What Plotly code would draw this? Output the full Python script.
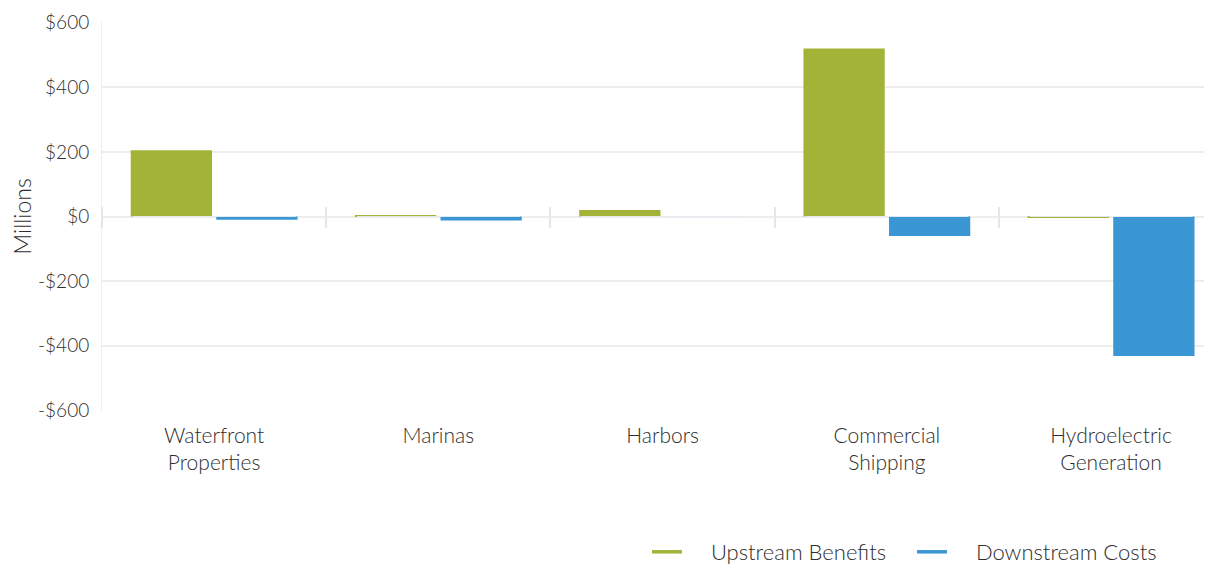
import plotly.graph_objects as go

categories = ["Waterfront<br>Properties", "Marinas", "Harbors", "Commercial<br>Shipping", "Hydroelectric<br>Generation"]
upstream_benefits = [205, 4, 20, 520, -2]
downstream_costs = [-10, -12, 0, -60, -432]
y_ticks = [600, 400, 200, 0, -200, -400, -600]
y_tick_labels = ["$600", "$400", "$200", "$0", "-$200", "-$400", "-$600"]
series_names = ["Upstream Benefits", "Downstream Costs"]

GREEN = "#a2b337"
BLUE = "#3a97d3"
FONT = "Lato"
TXT = "#2e2e2e"
GRID = "#f0ecec"
NB = "\u00a0"

fig = go.Figure()
fig.add_trace(go.Bar(x=categories, y=upstream_benefits, marker=dict(color=GREEN, line=dict(width=0)),
                     showlegend=False, name=series_names[0]))
fig.add_trace(go.Bar(x=categories, y=downstream_costs, marker=dict(color=BLUE, line=dict(width=0)),
                     showlegend=False, name=series_names[1]))
# legend entries as lines
fig.add_trace(go.Scatter(x=[None], y=[None], mode="lines", line=dict(color=GREEN, width=3.5),
                         name=NB * 4 + series_names[0]))
fig.add_trace(go.Scatter(x=[None], y=[None], mode="lines", line=dict(color=BLUE, width=3.5),
                         name=NB * 4 + series_names[1]))
# separator tick marks at zero line (category boundaries)
fig.add_trace(go.Bar(x=categories, y=[0]*5, xaxis="x2", showlegend=False, hoverinfo="skip"))
fig.add_trace(go.Bar(x=categories, y=[0]*5, xaxis="x3", showlegend=False, hoverinfo="skip"))

fig.update_layout(
    width=1204, height=557,
    margin=dict(l=94, r=0, t=14, b=154, autoexpand=False),
    paper_bgcolor="white", plot_bgcolor="white",
    font=dict(family=FONT, color=TXT, size=18, weight=300),
    barmode="group", bargap=0.237, bargroupgap=0.05,
    xaxis=dict(range=[-0.5, 4.45], showgrid=False, zeroline=False, showline=False, automargin=False,
               tickfont=dict(size=21, color=TXT, weight=300), ticks="", ticklabelstandoff=10),
    xaxis2=dict(overlaying="x", matches="x", anchor="free", position=0.5, side="bottom",
                type="category", tickson="boundaries", ticks="outside", ticklen=10,
                tickcolor="#e6e6e6", tickwidth=2, showticklabels=False, showgrid=False,
                showline=False, zeroline=False),
    xaxis3=dict(overlaying="x", matches="x", anchor="free", position=0.5, side="top",
                type="category", tickson="boundaries", ticks="outside", ticklen=10,
                tickcolor="#e6e6e6", tickwidth=2, showticklabels=False, showgrid=False,
                showline=False, zeroline=False),
    yaxis=dict(range=[-602, 602], tickvals=y_ticks, ticktext=y_tick_labels, automargin=False,
               showgrid=True, gridcolor=GRID, gridwidth=2,
               zeroline=True, zerolinecolor=GRID, zerolinewidth=2,
               showline=True, linecolor=GRID, linewidth=1,
               tickfont=dict(size=19, color=TXT, weight=300), ticks="", ticklabelstandoff=8,
               title=dict(text="Millions", font=dict(size=23, color=TXT, weight=300), standoff=12)),
    legend=dict(orientation="h", x=0.491, xanchor="left", y=-0.3625, yanchor="middle",
                font=dict(size=22, color=TXT, weight=300), tracegroupgap=0, entrywidth=220,
                bgcolor="rgba(0,0,0,0)"),
)

fig.write_html("out.html")
